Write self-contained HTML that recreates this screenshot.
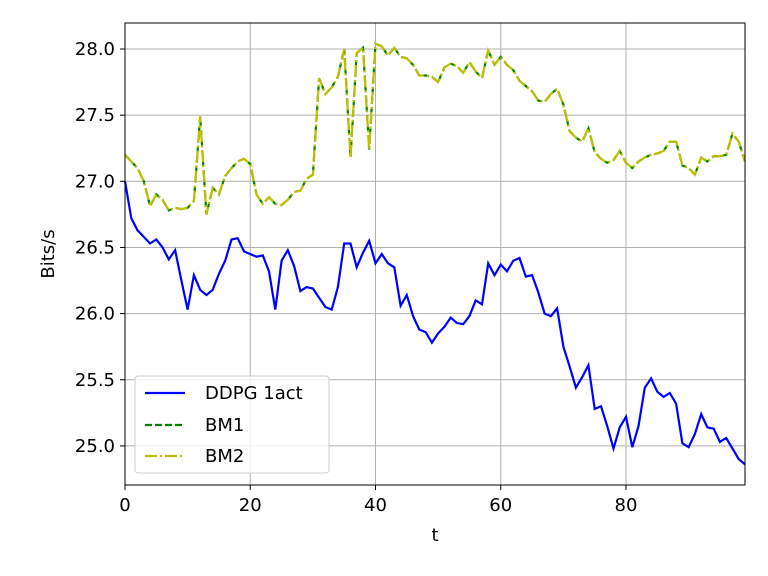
<!DOCTYPE html>
<html><head><meta charset="utf-8"><style>
body{margin:0;background:#fff;}
svg{display:block;font-family:"DejaVu Sans","Liberation Sans",sans-serif;}
</style></head><body>
<svg id="chart" width="768" height="576" xmlns="http://www.w3.org/2000/svg">
<rect width="768" height="576" fill="#fff"/>
<g id="grid"></g>
<g id="ticks"></g>
<g id="series"></g>
<rect x="125" y="23" width="620" height="462" fill="none" stroke="#000" stroke-width="1"/>
<text x="435" y="541" font-size="18" text-anchor="middle">t</text>
<text transform="translate(54,254) rotate(-90)" font-size="18" text-anchor="middle">Bits/s</text>
<g>
<rect x="135" y="376" width="194" height="97" rx="3" fill="#fff" fill-opacity="0.8" stroke="#ccc"/>
<g><line x1="145" y1="393" x2="185" y2="393" stroke="#0000ff" stroke-width="2.2"/><text x="205" y="399" font-size="18">DDPG 1act</text></g>
<g><line x1="145" y1="425" x2="185" y2="425" stroke="#008000" stroke-width="2.2" stroke-dasharray="7,3"/><text x="205" y="431" font-size="18">BM1</text></g>
<g><line x1="145" y1="456" x2="185" y2="456" stroke="#bfbf00" stroke-width="2.2" stroke-dasharray="12,3,2,3"/><text x="205" y="462" font-size="18">BM2</text></g>
</g>
</svg>
<script>
const ddpg=[27.0,26.72,26.63,26.58,26.53,26.56,26.5,26.41,26.48,26.25,26.03,26.29,26.18,26.14,26.18,26.3,26.4,26.56,26.57,26.47,26.45,26.43,26.44,26.32,26.03,26.4,26.48,26.36,26.17,26.2,26.19,26.12,26.05,26.03,26.2,26.53,26.53,26.35,26.46,26.55,26.38,26.45,26.38,26.35,26.06,26.14,25.98,25.88,25.86,25.78,25.85,25.9,25.97,25.93,25.92,25.98,26.1,26.07,26.38,26.29,26.37,26.32,26.4,26.42,26.28,26.29,26.16,26.0,25.98,26.04,25.75,25.6,25.44,25.52,25.61,25.28,25.3,25.15,24.98,25.14,25.22,24.99,25.15,25.44,25.51,25.41,25.37,25.4,25.32,25.02,24.99,25.09,25.24,25.14,25.13,25.03,25.06,24.98,24.9,24.86];
const bm1=[27.2,27.15,27.1,27.0,26.81,26.9,26.86,26.78,26.8,26.79,26.8,26.85,27.49,26.75,26.95,26.9,27.04,27.1,27.15,27.17,27.13,26.9,26.83,26.88,26.83,26.82,26.86,26.92,26.93,27.02,27.05,27.78,27.66,27.71,27.79,28.0,27.18,27.97,28.01,27.24,28.04,28.02,27.95,28.01,27.94,27.93,27.88,27.8,27.8,27.79,27.75,27.86,27.89,27.87,27.82,27.9,27.83,27.78,27.99,27.88,27.94,27.88,27.84,27.76,27.72,27.68,27.61,27.6,27.66,27.7,27.58,27.38,27.33,27.3,27.4,27.22,27.17,27.14,27.16,27.23,27.14,27.1,27.15,27.18,27.2,27.21,27.23,27.3,27.3,27.12,27.1,27.05,27.18,27.15,27.19,27.19,27.2,27.36,27.3,27.15];
const bm2=bm1.slice();
const xTicks=[0,20,40,60,80];
const yTicks=[25.0,25.5,26.0,26.5,27.0,27.5,28.0];
const NS="http://www.w3.org/2000/svg";
function xs(v){return 125+v*(620/99);}
function ys(v){return 49+(28-v)*132.3;}
function mk(tag,attrs,parent){const e=document.createElementNS(NS,tag);for(const k in attrs)e.setAttribute(k,attrs[k]);parent.appendChild(e);return e;}
const grid=document.getElementById('grid'),ticks=document.getElementById('ticks'),series=document.getElementById('series');
xTicks.forEach(t=>{const x=xs(t);
const g=mk('line',{x1:x,x2:x,y1:23,y2:485,stroke:'#b0b0b0','stroke-width':1},grid);


mk('line',{x1:x,x2:x,y1:485,y2:490,stroke:'#000'},ticks);
const l=mk('text',{x:x,y:511,'font-size':18,'text-anchor':'middle'},ticks);l.textContent=t;

});
yTicks.forEach(t=>{const y=ys(t);
const g=mk('line',{x1:125,x2:745,y1:y,y2:y,stroke:'#b0b0b0','stroke-width':1},grid);


mk('line',{x1:120,x2:125,y1:y,y2:y,stroke:'#000'},ticks);
const l=mk('text',{x:115,y:y+6,'font-size':18,'text-anchor':'end'},ticks);l.textContent=t.toFixed(1);

});
function path(d){return d.map((v,i)=>(i?'L':'M')+xs(i).toFixed(1)+','+ys(v).toFixed(1)).join('');}
const p1=mk('path',{d:path(ddpg),fill:'none',stroke:'#0000ff','stroke-width':2.2},series);


const p2=mk('path',{d:path(bm1),fill:'none',stroke:'#008000','stroke-width':2.2,'stroke-dasharray':'7,3'},series);


const p3=mk('path',{d:path(bm2),fill:'none',stroke:'#bfbf00','stroke-width':2.2,'stroke-dasharray':'12,3,2,3'},series);


</script>
</body></html>
